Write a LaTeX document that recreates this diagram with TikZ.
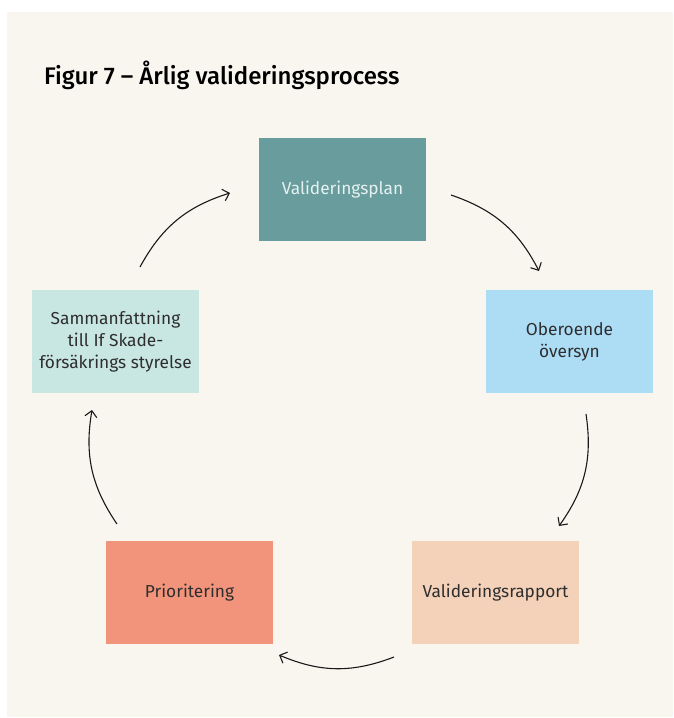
\documentclass[tikz,border=0pt]{standalone}
\usepackage{fontspec}
\setmainfont{Fira Sans}
\newfontfamily\titlefont{Fira Sans Medium}
\usetikzlibrary{arrows.meta}
\definecolor{bgc}{HTML}{F9F6F0}
\definecolor{tealc}{HTML}{689C9D}
\definecolor{bluec}{HTML}{ADDDF5}
\definecolor{peachc}{HTML}{F4D2BA}
\definecolor{salmonc}{HTML}{F2947C}
\definecolor{mintc}{HTML}{C9E7E2}
\definecolor{txtc}{HTML}{2E2E2E}
\definecolor{lighttxt}{HTML}{E6F1F1}
\begin{document}
\begin{tikzpicture}[x=1pt,y=-1pt,
  box/.style={rectangle, minimum width=167pt, minimum height=103pt, inner sep=0pt,
    align=center, text=txtc, font=\fontsize{17.3}{22}\selectfont},
  cyc/.style={-{Straight Barb[length=6pt,width=12pt,line width=1.1pt]}, line width=1.1pt, black!90, bend left=22}]
\useasboundingbox (0,0) rectangle (673,718);
\fill[bgc] (7,12) rectangle (673,717);
\node[anchor=base west, inner sep=0pt, text=black, font=\fontsize{24}{27}\titlefont] (title) at (44,84) {Figur 7 – Årlig valideringsprocess};
\node[box, fill=tealc, text=lighttxt] (plan) at (342.5,189.5) {Valideringsplan};
\node[box, fill=bluec] (over) at (569.5,341.5) {Oberoende\\översyn};
\node[box, fill=peachc] (rapp) at (495.5,592.5) {Valideringsrapport};
\node[box, fill=salmonc] (prio) at (189.5,592.5) {Prioritering};
\node[box, fill=mintc] (samm) at (115.5,341.5) {Sammanfattning\\till If Skade-\\försäkrings styrelse};
\coordinate (a1s) at (140,267); \coordinate (a1e) at (230,193);
\coordinate (a2s) at (451,195); \coordinate (a2e) at (539,271);
\coordinate (a3s) at (586,414); \coordinate (a3e) at (559,526);
\coordinate (a4s) at (394,657); \coordinate (a4e) at (279,655);
\coordinate (a5s) at (117,524); \coordinate (a5e) at (92,410);
\draw[cyc] (a1s) to (a1e);
\draw[cyc] (a2s) to (a2e);
\draw[cyc] (a3s) to (a3e);
\draw[cyc] (a4s) to (a4e);
\draw[cyc] (a5s) to (a5e);
\end{tikzpicture}
\end{document}
